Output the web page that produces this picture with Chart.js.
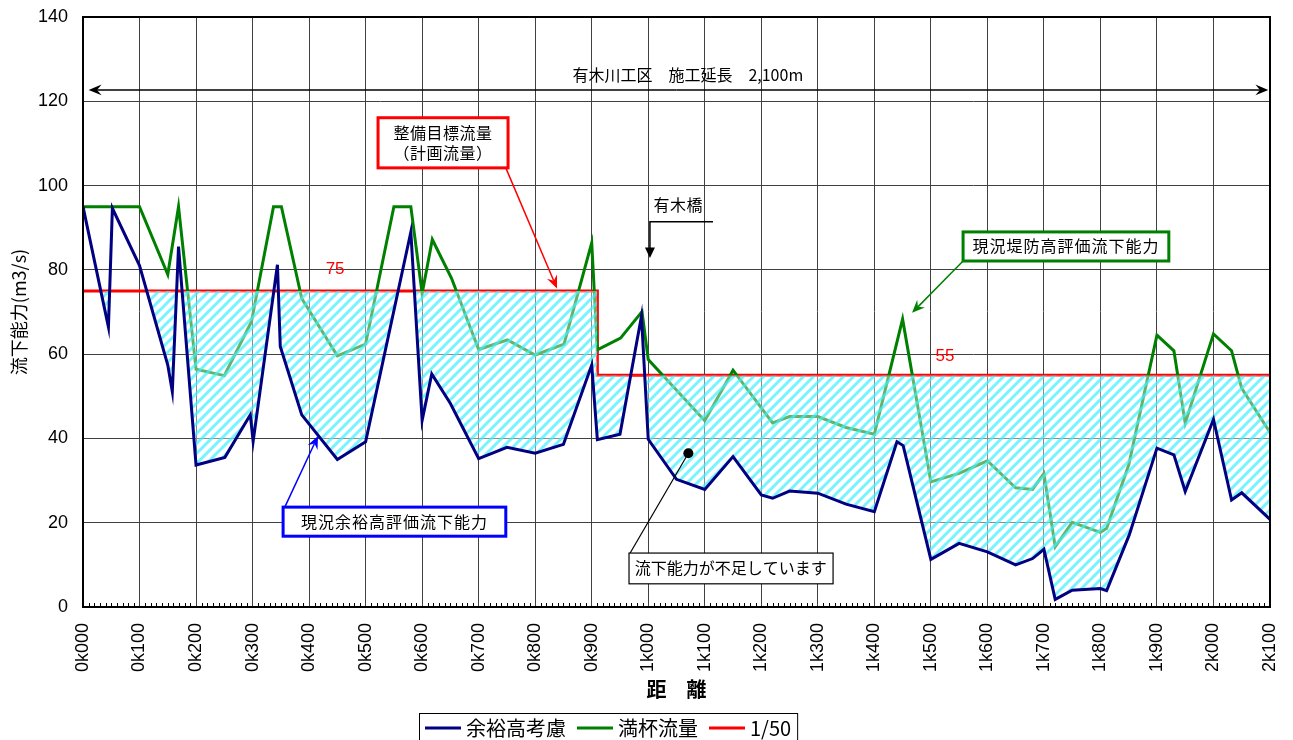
<!DOCTYPE html>
<html lang="ja">
<head>
<meta charset="utf-8">
<title>流下能力</title>
<script src="https://cdn.jsdelivr.net/npm/chart.js@4.4.1/dist/chart.umd.min.js"></script>
<style>
  body { margin: 0; background: #fff; }
  #wrap { width: 1293px; height: 740px; }
</style>
</head>
<body>
<div id="wrap"><canvas id="chart"></canvas></div>
<script>
// 余裕高考慮 (distance m / flow m3/s)
const yoyuDist = [0, 45, 52, 100, 150, 158, 169, 200, 251, 296, 301, 344, 349, 387, 450, 500, 580, 600, 617, 650,
  700, 750, 800, 850, 900, 910, 950, 988, 1000, 1050, 1100, 1150, 1200, 1220, 1250, 1300, 1350, 1400, 1440, 1451,
  1500, 1550, 1600, 1650, 1680, 1700, 1720, 1750, 1800, 1811, 1851, 1900, 1930, 1950, 2000, 2032, 2050, 2100];
const yoyuFlow = [95, 66.4, 94.6, 81, 57.4, 51.1, 85.5, 33.7, 35.5, 45.6, 39.3, 81.2, 61.8, 45.6, 35, 39.2, 89, 44.3, 55.3, 48.3,
  35.2, 37.9, 36.5, 38.6, 57.4, 39.7, 41, 69, 39.8, 30.3, 27.9, 35.7, 26.6, 25.8, 27.5, 27, 24.4, 22.6, 39.2, 38.3,
  11.3, 15.1, 13.1, 10, 11.5, 13.7, 1.8, 4, 4.4, 3.9, 17.1, 37.7, 36.1, 27.4, 44.5, 25.4, 27.1, 20.8];

// 満杯流量
const manpaiDist = [0, 100, 150, 169, 200, 250, 298, 337, 351, 387, 450, 500, 550, 580, 600, 618, 652, 700, 751, 800,
  851, 900, 910, 951, 989, 1000, 1100, 1150, 1220, 1250, 1300, 1350, 1400, 1450, 1500, 1550, 1600, 1650, 1680, 1700,
  1720, 1750, 1800, 1811, 1850, 1900, 1930, 1950, 2000, 2032, 2050, 2100];
const manpaiFlow = [95, 95, 78.9, 95, 56.4, 54.9, 67.7, 95, 95, 73.2, 59.6, 62.4, 95, 95, 74.4, 87.2, 78, 61.1, 63.4, 59.8,
  62.4, 86.4, 61, 63.8, 70.1, 58.7, 44.2, 56.2, 43.7, 45.2, 45.2, 42.6, 41, 68.3, 29.7, 31.7, 34.7, 28.3, 27.9, 31.7,
  14.3, 20.1, 17.7, 18.7, 33.7, 64.5, 60.8, 43.6, 64.8, 60.8, 51.9, 41.4];

// 1/50 (整備目標流量)
const planDist = [0, 910, 910, 2100];
const planFlow = [75, 75, 55, 55];

const xTickLabels = ['0k000', '0k100', '0k200', '0k300', '0k400', '0k500', '0k600', '0k700', '0k800', '0k900', '1k000',
  '1k100', '1k200', '1k300', '1k400', '1k500', '1k600', '1k700', '1k800', '1k900', '2k000', '2k100'];

const FONT = '"Liberation Sans", "Noto Sans CJK JP", sans-serif';
const JP = '"Noto Sans CJK JP", "Liberation Sans", sans-serif';

function toPoints(xs, ys) {
  return xs.map((x, i) => ({ x: x, y: ys[i] }));
}

// light cyan diagonal hatch for the shortage area
function makeHatch() {
  const c = document.createElement('canvas');
  c.width = 10; c.height = 10;
  const g = c.getContext('2d');
  g.fillStyle = 'rgba(255,255,255,0.4)';
  g.fillRect(0, 0, 10, 10);
  g.strokeStyle = 'rgba(60,240,255,0.7)';
  g.lineWidth = 3;
  g.beginPath();
  g.moveTo(-5, 5); g.lineTo(5, -5);
  g.moveTo(0, 10); g.lineTo(10, 0);
  g.moveTo(5, 15); g.lineTo(15, 5);
  g.stroke();
  return g.createPattern(c, 'repeat');
}

function arrow(ctx, x1, y1, x2, y2, color, width, head) {
  const ang = Math.atan2(y2 - y1, x2 - x1);
  ctx.strokeStyle = color;
  ctx.fillStyle = color;
  ctx.lineWidth = width;
  ctx.beginPath();
  ctx.moveTo(x1, y1);
  ctx.lineTo(x2 - Math.cos(ang) * head * 0.6, y2 - Math.sin(ang) * head * 0.6);
  ctx.stroke();
  ctx.beginPath();
  ctx.moveTo(x2, y2);
  ctx.lineTo(x2 - head * Math.cos(ang - 0.4), y2 - head * Math.sin(ang - 0.4));
  ctx.lineTo(x2 - head * 0.6 * Math.cos(ang), y2 - head * 0.6 * Math.sin(ang));
  ctx.lineTo(x2 - head * Math.cos(ang + 0.4), y2 - head * Math.sin(ang + 0.4));
  ctx.closePath();
  ctx.fill();
}

function textBox(ctx, x1, y1, x2, y2, color, width, lines, cx, cys) {
  ctx.fillStyle = '#fff';
  ctx.fillRect(x1, y1, x2 - x1, y2 - y1);
  ctx.strokeStyle = color;
  ctx.lineWidth = width;
  ctx.strokeRect(x1, y1, x2 - x1, y2 - y1);
  ctx.fillStyle = '#000';
  ctx.textAlign = 'center';
  ctx.textBaseline = 'middle';
  lines.forEach((t, i) => ctx.fillText(t, cx, cys[i]));
}

// plot frame and 10m minor ticks
const framePlugin = {
  id: 'frame',
  afterDatasetsDraw(chart) {
    const { ctx, chartArea: a, scales: { x } } = chart;
    ctx.save();
    ctx.strokeStyle = '#000';
    ctx.lineWidth = 1;
    ctx.beginPath();
    for (let m = 10; m < 2100; m += 10) {
      if (m % 100 === 0) continue;
      const p = Math.round(x.getPixelForValue(m)) + 0.5;
      ctx.moveTo(p, a.bottom);
      ctx.lineTo(p, a.bottom - 4);
    }
    ctx.stroke();
    ctx.lineWidth = 2;
    ctx.strokeRect(a.left, a.top, a.right - a.left, a.bottom - a.top);
    ctx.restore();
  }
};

// callouts and custom legend
const notesPlugin = {
  id: 'notes',
  afterDraw(chart) {
    const { ctx, scales: { x, y } } = chart;
    const px = v => x.getPixelForValue(v);
    const py = v => y.getPixelForValue(v);
    ctx.save();

    // 施工延長 span
    arrow(ctx, px(1050), py(122.7), px(10), py(122.7), '#000', 1.5, 14);
    arrow(ctx, px(1050), py(122.7), px(2097), py(122.7), '#000', 1.5, 14);
    ctx.font = '16px ' + JP;
    ctx.fillStyle = '#000';
    ctx.textAlign = 'center';
    ctx.textBaseline = 'middle';
    ctx.fillText('有木川工区　施工延長　2,100m', px(1070), py(126.3));

    // 目標流量 labels
    ctx.fillStyle = '#ff0000';
    ctx.font = '17px ' + FONT;
    ctx.fillText('75', px(446), py(80.1));
    ctx.fillText('55', px(1525), py(59.6));

    // 整備目標流量
    arrow(ctx, px(748), py(104.2), px(838.6), py(75.6), '#ff0000', 1.5, 14);
    ctx.font = '16px ' + JP;
    ctx.letterSpacing = '0.5px';
    textBox(ctx, px(522), py(116.1), px(752), py(104.2), '#ff0000', 3,
      ['整備目標流量', '（計画流量）'], px(637), [py(112.6), py(107.8)]);

    // 有木橋
    ctx.fillStyle = '#000';
    ctx.textAlign = 'center';
    ctx.fillText('有木橋', px(1053), py(95.4));
    ctx.strokeStyle = '#000';
    ctx.lineWidth = 1.5;
    ctx.beginPath();
    ctx.moveTo(px(1114.6), py(91.4));
    ctx.lineTo(px(1003), py(91.4));
    ctx.lineTo(px(1003), py(85));
    ctx.stroke();
    ctx.beginPath();
    ctx.moveTo(px(1003) - 5, py(85.3));
    ctx.lineTo(px(1003) + 5, py(85.3));
    ctx.lineTo(px(1003), py(82.8));
    ctx.closePath();
    ctx.fill();

    // 現況堤防高評価流下能力
    arrow(ctx, px(1557), py(82.1), px(1466.7), py(69.8), '#008000', 1.5, 14);
    ctx.letterSpacing = '1px';
    textBox(ctx, px(1557), py(89), px(1921), py(82.1), '#008000', 3,
      ['現況堤防高評価流下能力'], px(1739), [py(85.6)]);

    // 現況余裕高評価流下能力
    arrow(ctx, px(357), py(23.7), px(415.8), py(40.6), '#0000ff', 1.5, 14);
    textBox(ctx, px(354), py(23.7), px(748), py(16.8), '#0000ff', 3,
      ['現況余裕高評価流下能力'], px(551), [py(20.3)]);
    ctx.letterSpacing = '0px';

    // 流下能力が不足しています
    ctx.strokeStyle = '#000';
    ctx.lineWidth = 1.2;
    ctx.beginPath();
    ctx.moveTo(px(968), py(12.8));
    ctx.lineTo(px(1071), py(36.5));
    ctx.stroke();
    ctx.fillStyle = '#000';
    ctx.beginPath();
    ctx.arc(px(1071), py(36.5), 5, 0, Math.PI * 2);
    ctx.fill();
    textBox(ctx, px(966), py(12.8), px(1327), py(5.5), '#000', 1.2,
      ['流下能力が不足しています'], px(1146), [py(9.2)]);

    // legend
    const items = chart.data.datasets;
    ctx.font = '20px ' + JP;
    let lx = 425;
    const ly = 728;
    const widths = items.map(d => ctx.measureText(d.label).width);
    const total = widths.reduce((s, w) => s + w + 36 + 5, 0) + 11 * (items.length - 1) + 12;
    ctx.fillStyle = '#fff';
    ctx.fillRect(419, 713, total, 40);
    ctx.strokeStyle = '#000';
    ctx.lineWidth = 1;
    ctx.strokeRect(419.5, 713.5, total, 40);
    items.forEach((d, i) => {
      ctx.strokeStyle = d.borderColor;
      ctx.lineWidth = 3;
      ctx.beginPath();
      ctx.moveTo(lx, ly);
      ctx.lineTo(lx + 36, ly);
      ctx.stroke();
      ctx.fillStyle = '#000';
      ctx.textAlign = 'left';
      ctx.textBaseline = 'middle';
      ctx.fillText(d.label, lx + 41, ly);
      lx += 36 + 5 + widths[i] + 11;
    });
    ctx.restore();
  }
};

const hatch = makeHatch();

new Chart(document.getElementById('chart'), {
  type: 'line',
  data: {
    datasets: [
      {
        label: '余裕高考慮',
        data: toPoints(yoyuDist, yoyuFlow),
        borderColor: '#000080',
        borderWidth: 3,
        pointRadius: 0,
        fill: { target: 2, above: 'rgba(0,0,0,0)', below: hatch }
      },
      {
        label: '満杯流量',
        data: toPoints(manpaiDist, manpaiFlow),
        borderColor: '#008000',
        borderWidth: 3,
        pointRadius: 0,
        fill: false
      },
      {
        label: '1/50',
        data: toPoints(planDist, planFlow),
        borderColor: '#ff0000',
        borderWidth: 3,
        pointRadius: 0,
        fill: false
      }
    ]
  },
  options: {
    responsive: true,
    maintainAspectRatio: false,
    animation: false,
    layout: { padding: { left: 0, top: 17, right: 23, bottom: 0 } },
    elements: { line: { tension: 0 } },
    plugins: {
      legend: { display: false },
      tooltip: { enabled: false },
      filler: { drawTime: 'beforeDatasetDraw' }
    },
    scales: {
      x: {
        type: 'linear',
        min: 0,
        max: 2100,
        afterFit(scale) {
          scale.height = 133;
          scale.paddingLeft = 0;
          scale.paddingRight = 0;
        },
        ticks: {
          stepSize: 100,
          autoSkip: false,
          maxRotation: 90,
          minRotation: 90,
          padding: 16,
          color: '#000',
          font: { family: FONT, size: 18 },
          callback: v => xTickLabels[Math.round(v / 100)]
        },
        grid: { color: '#404040', lineWidth: 1, drawTicks: false },
        border: { color: '#000', width: 2 },
        title: {
          display: true,
          text: '距　離',
          color: '#000',
          font: { family: JP, size: 20, weight: 'bold' },
          padding: { top: 0, bottom: 39 }
        }
      },
      y: {
        min: 0,
        max: 140,
        afterFit(scale) {
          scale.width = 83;
          scale.paddingTop = 0;
          scale.paddingBottom = 0;
        },
        ticks: {
          stepSize: 20,
          padding: 15,
          color: '#000',
          font: { family: FONT, size: 18 }
        },
        grid: { color: '#404040', lineWidth: 1, drawTicks: false },
        border: { color: '#000', width: 2 },
        title: {
          display: true,
          text: '流下能力(m3/s)',
          color: '#000',
          font: { family: JP, size: 18 },
          padding: { top: 8, bottom: 0 }
        }
      }
    }
  },
  plugins: [framePlugin, notesPlugin]
});
</script>
</body>
</html>
